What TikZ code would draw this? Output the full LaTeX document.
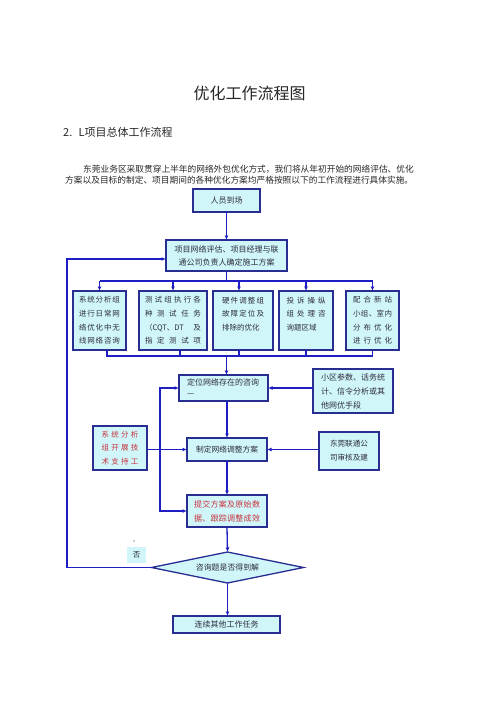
\documentclass[tikz,border=0pt]{standalone}
\usepackage{fontspec}
\setmainfont{Noto Sans CJK SC}
\usetikzlibrary{arrows.meta,shapes.geometric}
\definecolor{bdr}{RGB}{40,45,145}
\definecolor{lnc}{RGB}{30,30,195}
\definecolor{fillc}{RGB}{208,246,250}
\definecolor{redt}{RGB}{200,50,60}
\definecolor{txt}{RGB}{45,45,60}
\newcommand\spr[2]{\makebox[#1][s]{\sprx#2\relax}}
\def\sprx#1#2{#1\ifx\relax#2\else\hfil\expandafter\sprx\expandafter#2\fi}
\begin{document}
\begin{tikzpicture}[x=1pt,y=-1pt,
  box/.style={draw=bdr,fill=fillc,line width=1.3pt,inner sep=0pt,outer sep=0pt,text=txt},
  conn/.style={draw=lnc,line width=1.3pt},
  arr/.style={conn,-{Latex[length=4.5pt,width=4pt]}},
  fsm/.style={font=\fontsize{7.5}{13.6}\selectfont},
]
\fill[white] (0,0) rectangle (500,707);
\useasboundingbox (0,0) rectangle (500,707);

% texts
\node[font=\fontsize{16}{16}\selectfont,text=black!85,inner sep=0pt] (title) at (249.5,93) {优化工作流程图};
\node[anchor=west,font=\fontsize{11}{11}\selectfont,text=black!85,inner sep=0pt] (head) at (63,132) {2.\hspace{3pt} L项目总体工作流程};
\node[anchor=west,font=\fontsize{8.7}{8.7}\selectfont,text=black!85,inner sep=0pt] (p1) at (83,169) {东莞业务区采取贯穿上半年的网络外包优化方式，我们将从年初开始的网络评估、优化};
\node[anchor=west,font=\fontsize{8.7}{8.7}\selectfont,text=black!85,inner sep=0pt] (p2) at (65,180) {方案以及目标的制定、项目期间的各种优化方案均严格按照以下的工作流程进行具体实施。};

% boxes
\node[box,minimum width=67pt,minimum height=23pt,font=\fontsize{8}{8}\selectfont] (ry) at (226.5,200.5) {人员到场};
\node[box,minimum width=121pt,minimum height=31pt,align=center,font=\fontsize{8}{13}\selectfont] (xm) at (226.5,255.5) {项目网络评估、项目经理与联\\通公司负责人确定施工方案};

\node[box,fsm,minimum width=53pt,minimum height=59pt,text width=41pt,align=left] (b1) at (99.5,320.5)
 {\spr{41pt}{系统分析组}\\\spr{41pt}{进行日常网}\\\spr{41pt}{络优化中无}\\\spr{41pt}{线网络咨询}};
\node[box,fsm,minimum width=68pt,minimum height=59pt,text width=56pt,align=left] (b2) at (173,320.5)
 {\spr{56pt}{测试组执行各}\\\spr{56pt}{种测试任务}\\\makebox[56pt][s]{（CQT、DT\hfil 及}\\\spr{56pt}{指定测试项}};
\node[box,fsm,minimum width=60pt,minimum height=59pt,text width=42pt,align=left] (b3) at (243,320.5)
 {\spr{42pt}{硬件调整组}\\\spr{42pt}{故障定位及}\\排除的优化\\\mbox{}};
\node[box,fsm,minimum width=54pt,minimum height=59pt,text width=39pt,align=left] (b4) at (306,320.5)
 {\spr{39pt}{投诉操纵}\\\spr{39pt}{组处理咨}\\询题区域\\\mbox{}};
\node[box,fsm,minimum width=53pt,minimum height=59pt,text width=39pt,align=left] (b5) at (372.5,320.5)
 {\spr{39pt}{配合新站}\\\spr{39pt}{小组、室内}\\\spr{39pt}{分布优化}\\\spr{39pt}{进行优化}};

\node[box,minimum width=89pt,minimum height=26pt,text width=73pt,align=left,font=\fontsize{8}{11}\selectfont] (dw) at (223.5,388) {定位网络存在的咨询\\—};
\node[box,minimum width=80pt,minimum height=44pt,text width=64pt,align=left,font=\fontsize{8}{14}\selectfont] (xq) at (353,391) {小区参数、话务统\\计、信令分析或其\\他网优手段};
\node[box,minimum width=54pt,minimum height=44pt,text width=37pt,align=left,text=redt,font=\fontsize{7.5}{13.5}\selectfont] (xt) at (120,448) {\spr{37pt}{系统分析}\\\spr{37pt}{组开展技}\\\spr{37pt}{术支持工}};
\node[box,minimum width=80pt,minimum height=23pt,font=\fontsize{7.75}{7.75}\selectfont] (zd) at (227,449.5) {制定网络调整方案};
\node[box,minimum width=60pt,minimum height=38pt,text width=38pt,align=left,font=\fontsize{7.6}{14}\selectfont] (dg) at (349,451) {\spr{38pt}{东莞联通公}\\\spr{38pt}{司审核及建}};
\node[box,minimum width=80pt,minimum height=32pt,text width=66pt,align=left,text=redt,font=\fontsize{8}{14}\selectfont] (tj) at (227,511) {\spr{66pt}{提交方案及原始数}\\\spr{66pt}{据、跟踪调整成效}};
\node[box,diamond,aspect=4.9,minimum width=152pt,minimum height=31pt,font=\fontsize{7.9}{7.9}\selectfont] (dia) at (227.5,567.5) {咨询题是否得到解};
\node[fill=fillc,minimum width=19pt,minimum height=16pt,inner sep=0pt,text=txt,font=\fontsize{7.5}{7.5}\selectfont] (fou) at (136.5,555) {否};
\node[circle,fill=txt,inner sep=0.5pt] (dot) at (134,541) {};
\node[box,minimum width=107pt,minimum height=17pt,font=\fontsize{8}{8}\selectfont] (lx) at (226.5,624.5) {连续其他工作任务};

% junctions
\coordinate (topbar) at (226.5,281);
\coordinate (botbar) at (226.5,356);
\coordinate (fb) at (67,567.5);
\coordinate (lp) at (160,388);

% connectors
\draw[arr] (ry) -- (xm);
\draw[conn] (xm.south) -- (topbar);
\draw[conn] (b1.north |- topbar) -- (b5.north |- topbar);
\draw[arr] (b1.north |- topbar) -- (b1.north);
\draw[arr] (b2.north |- topbar) -- (b2.north);
\draw[arr] ([xshift=-4pt]b3.north |- topbar) -- ([xshift=-4pt]b3.north);
\draw[arr] (b4.north |- topbar) -- (b4.north);
\draw[arr] (b5.north |- topbar) -- (b5.north);

\draw[conn] ([xshift=7.5pt]b1.south) -- ([xshift=7.5pt]b1.south |- botbar) -- (b5.south |- botbar) -- (b5.south);
\draw[conn] ([xshift=7pt]b2.south) -- ([xshift=7pt]b2.south |- botbar);
\draw[conn] ([xshift=-4pt]b3.south) -- ([xshift=-4pt]b3.south |- botbar);
\draw[conn] (b4.south) -- (b4.south |- botbar);
\draw[arr] (botbar) -- (botbar |- dw.north);

\draw[arr] (dw.south -| zd.north) -- (zd.north);
\draw[arr] (zd.south) -- (tj.north);
\draw[arr] (tj.south) -- (dia.north);
\draw[arr] (dia.south) -- (dia.south |- lx.north);

\draw[arr] (dia.west) -- (fb) |- ([yshift=-3.5pt]xm.west);
\draw[arr] (dw.east -| xq.west) -- (dw.east);
\draw[arr] (zd.east -| dg.west) -- (zd.east);
\draw[arr] (zd.west -| xt.east) -- (zd.west);
\draw[conn,{Latex[length=4.5pt,width=4pt]}-{Latex[length=4.5pt,width=4pt]}] (dw.west) -- (lp) |- (tj.west);
\end{tikzpicture}
\end{document}
